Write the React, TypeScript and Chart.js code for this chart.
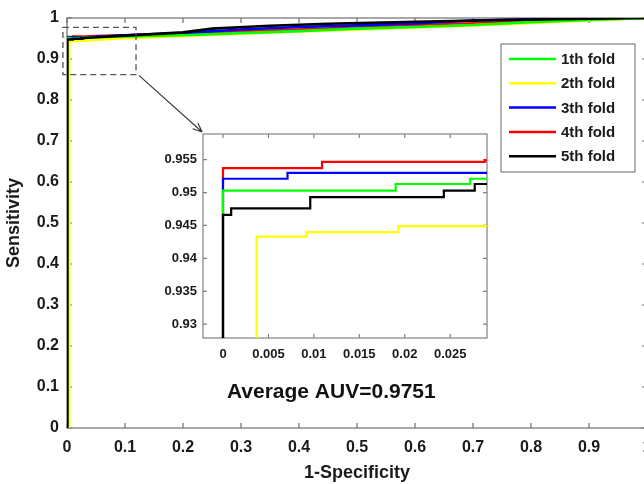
import { useEffect, useRef } from "react";
import { Chart, registerables } from "chart.js";
Chart.register(...registerables);

type Pt = [number, number];

// ---- data ----
const foldLabels = ["1th fold", "2th fold", "3th fold", "4th fold", "5th fold"];
const foldColors = ["#00ff00", "#ffff00", "#0000ff", "#ff0000", "#000000"];
const foldOrder = [2, 3, 4, 5, 1];

const fold1: Pt[] = [
  [0, 0], [0, 0.9503], [0.019, 0.9503], [0.019, 0.9513], [0.0272, 0.9513], [0.0272, 0.9521], [0.031, 0.9521],
  [0.05, 0.953], [0.1, 0.955], [0.2, 0.958], [0.3, 0.963], [0.4, 0.968], [0.5, 0.974],
  [0.6, 0.978], [0.7, 0.983], [0.8, 0.99], [0.9, 0.995], [1, 1],
];
const fold2: Pt[] = [
  [0.0037, 0], [0.0037, 0.9433], [0.0092, 0.9433], [0.0092, 0.944], [0.0193, 0.944], [0.0193, 0.9449], [0.031, 0.9449],
  [0.05, 0.947], [0.1, 0.951], [0.2, 0.956], [0.3, 0.962], [0.4, 0.967], [0.5, 0.972],
  [0.6, 0.977], [0.7, 0.982], [0.8, 0.988], [0.9, 0.994], [1, 1],
];
const fold3: Pt[] = [
  [0, 0], [0, 0.9521], [0.0071, 0.9521], [0.0071, 0.953], [0.031, 0.953],
  [0.05, 0.954], [0.1, 0.958], [0.2, 0.963], [0.3, 0.972], [0.4, 0.978], [0.5, 0.982],
  [0.6, 0.987], [0.7, 0.994], [0.8, 0.997], [0.9, 0.998], [1, 1],
];
const fold4: Pt[] = [
  [0, 0], [0, 0.9537], [0.0109, 0.9537], [0.0109, 0.95465], [0.0288, 0.95465], [0.0288, 0.9549], [0.031, 0.9549],
  [0.05, 0.956], [0.1, 0.958], [0.2, 0.961], [0.3, 0.967], [0.4, 0.972], [0.5, 0.977],
  [0.6, 0.982], [0.7, 0.987], [0.8, 0.992], [0.9, 0.996], [1, 1],
];
const fold5: Pt[] = [
  [0, 0], [0, 0.9466], [0.0009, 0.9466], [0.0009, 0.9476], [0.0096, 0.9476], [0.0096, 0.9493],
  [0.0243, 0.9493], [0.0243, 0.9503], [0.0277, 0.9503], [0.0277, 0.9513], [0.031, 0.9513],
  [0.05, 0.953], [0.1, 0.957], [0.2, 0.965], [0.25, 0.974], [0.35, 0.981], [0.45, 0.986],
  [0.6, 0.991], [0.75, 0.995], [0.9, 0.998], [1, 1],
];
const folds = [fold1, fold2, fold3, fold4, fold5];

const xTicksMain = [0, 0.1, 0.2, 0.3, 0.4, 0.5, 0.6, 0.7, 0.8, 0.9, 1];
const xTickLabelsMain = ["0", "0.1", "0.2", "0.3", "0.4", "0.5", "0.6", "0.7", "0.8", "0.9", "1"];
const yTicksMain = [0, 0.1, 0.2, 0.3, 0.4, 0.5, 0.6, 0.7, 0.8, 0.9, 1];
const yTickLabelsMain = ["0", "0.1", "0.2", "0.3", "0.4", "0.5", "0.6", "0.7", "0.8", "0.9", "1"];

const xTicksInset = [0, 0.005, 0.01, 0.015, 0.02, 0.025];
const xTickLabelsInset = ["0", "0.005", "0.01", "0.015", "0.02", "0.025"];
const yTicksInset = [0.93, 0.935, 0.94, 0.945, 0.95, 0.955];
const yTickLabelsInset = ["0.93", "0.935", "0.94", "0.945", "0.95", "0.955"];
const insetXRange: Pt = [-0.0022, 0.02905];
const insetYRange: Pt = [0.9279, 0.9589];

const zoomBoxX: Pt = [-0.007, 0.119];
const zoomBoxY: Pt = [0.862, 0.977];
const arrowFrom: Pt = [0.124, 0.86];
const arrowTo: Pt = [0.233, 0.722];
const aucText = "Average AUV=0.9751";
const aucPos: Pt = [0.4557, 0.074];

const FONT = "'Liberation Sans', Arial, Helvetica, sans-serif";
const TXT = "#1a1a1a";

function boxPlugin(id: string, tickLen: number, color: string, lw: number, fillWhite: boolean) {
  return {
    id,
    beforeDatasetsDraw(chart: any) {
      const { ctx, chartArea: a, scales } = chart;
      const x = scales.x, y = scales.y;
      ctx.save();
      if (fillWhite) {
        ctx.fillStyle = "#ffffff";
        ctx.fillRect(a.left, a.top, a.right - a.left, a.bottom - a.top);
      }
      ctx.strokeStyle = color;
      ctx.lineWidth = lw;
      ctx.strokeRect(a.left, a.top, a.right - a.left, a.bottom - a.top);
      ctx.beginPath();
      for (const t of x.ticks) {
        const px = x.getPixelForValue(t.value);
        ctx.moveTo(px, a.bottom); ctx.lineTo(px, a.bottom - tickLen);
        ctx.moveTo(px, a.top); ctx.lineTo(px, a.top + tickLen);
      }
      for (const t of y.ticks) {
        const py = y.getPixelForValue(t.value);
        ctx.moveTo(a.left, py); ctx.lineTo(a.left + tickLen, py);
        ctx.moveTo(a.right, py); ctx.lineTo(a.right - tickLen, py);
      }
      ctx.stroke();
      ctx.restore();
    },
  };
}

const overlayPlugin = {
  id: "overlay",
  afterDatasetsDraw(chart: any) {
    const { ctx, chartArea: a, scales } = chart;
    const x = scales.x, y = scales.y;
    ctx.save();
    // dashed zoom box
    ctx.strokeStyle = "#555555";
    ctx.lineWidth = 1.3;
    ctx.setLineDash([6, 4]);
    const bx0 = x.getPixelForValue(zoomBoxX[0]);
    const bx1 = x.getPixelForValue(zoomBoxX[1]);
    const by0 = y.getPixelForValue(zoomBoxY[1]);
    const by1 = y.getPixelForValue(zoomBoxY[0]);
    ctx.strokeRect(bx0, by0, bx1 - bx0, by1 - by0);
    ctx.setLineDash([]);
    // arrow
    const ax0 = x.getPixelForValue(arrowFrom[0]);
    const ay0 = y.getPixelForValue(arrowFrom[1]);
    const ax1 = x.getPixelForValue(arrowTo[0]);
    const ay1 = y.getPixelForValue(arrowTo[1]);
    ctx.strokeStyle = "#333333";
    ctx.lineWidth = 1.1;
    ctx.beginPath();
    ctx.moveTo(ax0, ay0);
    ctx.lineTo(ax1, ay1);
    const ang = Math.atan2(ay1 - ay0, ax1 - ax0);
    const hl = 10;
    ctx.moveTo(ax1, ay1);
    ctx.lineTo(ax1 - hl * Math.cos(ang - 0.4), ay1 - hl * Math.sin(ang - 0.4));
    ctx.moveTo(ax1, ay1);
    ctx.lineTo(ax1 - hl * Math.cos(ang + 0.4), ay1 - hl * Math.sin(ang + 0.4));
    ctx.stroke();
    // AUC text
    ctx.fillStyle = "#111111";
    ctx.font = `bold 21px ${FONT}`;
    ctx.textAlign = "center";
    ctx.textBaseline = "alphabetic";
    ctx.fillText(aucText, x.getPixelForValue(aucPos[0]), y.getPixelForValue(aucPos[1]));
    // legend
    const lw = 134, lh = 128;
    const lx = a.right - 12 - lw;
    const ly = a.top + 26;
    ctx.fillStyle = "#ffffff";
    ctx.fillRect(lx, ly, lw, lh);
    ctx.strokeStyle = "#808080";
    ctx.lineWidth = 1.2;
    ctx.strokeRect(lx, ly, lw, lh);
    ctx.font = `bold 15px ${FONT}`;
    ctx.textAlign = "left";
    ctx.textBaseline = "middle";
    foldLabels.forEach((lab, i) => {
      const cy = ly + 15 + i * 24.3;
      ctx.strokeStyle = foldColors[i];
      ctx.lineWidth = 2.5;
      ctx.beginPath();
      ctx.moveTo(lx + 8, cy);
      ctx.lineTo(lx + 55, cy);
      ctx.stroke();
      ctx.fillStyle = TXT;
      ctx.fillText(lab, lx + 60, cy + 1);
    });
    ctx.restore();
  },
};

function makeDatasets(width: number) {
  return folds.map((f, i) => ({
    label: foldLabels[i],
    data: f.map(([px, py]) => ({ x: px, y: py })),
    borderColor: foldColors[i],
    backgroundColor: foldColors[i],
    borderWidth: width,
    pointRadius: 0,
    tension: 0,
    fill: false,
    order: foldOrder[i],
  }));
}

export default function App() {
  const mainRef = useRef<HTMLCanvasElement>(null);
  const insetRef = useRef<HTMLCanvasElement>(null);

  useEffect(() => {
    const main = new Chart(mainRef.current!, {
      type: "line",
      data: { datasets: makeDatasets(2.6) as any },
      options: {
        animation: false,
        responsive: false,
        devicePixelRatio: 1,
        layout: { padding: { top: 18, left: 0, right: 0, bottom: 0 } },
        plugins: { legend: { display: false }, tooltip: { enabled: false } },
        scales: {
          x: {
            type: "linear",
            min: 0,
            max: 1,
            grid: { display: false, drawTicks: false },
            border: { display: false },
            afterBuildTicks: (s: any) => { s.ticks = xTicksMain.map((v) => ({ value: v })); },
            afterFit: (s: any) => { s.height = 56; s.paddingLeft = 0; s.paddingRight = 0; },
            ticks: {
              padding: 10,
              color: TXT,
              autoSkip: false,
              maxRotation: 0,
              font: { family: FONT, size: 16, weight: "bold" },
              callback: (_v: any, i: number) => xTickLabelsMain[i],
            },
            title: {
              display: true,
              text: "1-Specificity",
              color: TXT,
              font: { family: FONT, size: 18, weight: "bold" },
              padding: { top: 0, bottom: 0 },
            },
          },
          y: {
            type: "linear",
            min: 0,
            max: 1,
            grid: { display: false, drawTicks: false },
            border: { display: false },
            afterBuildTicks: (s: any) => { s.ticks = yTicksMain.map((v) => ({ value: v })); },
            afterFit: (s: any) => { s.width = 67; s.paddingTop = 0; s.paddingBottom = 0; },
            ticks: {
              padding: 8,
              color: TXT,
              autoSkip: false,
              font: { family: FONT, size: 16, weight: "bold" },
              callback: (_v: any, i: number) => yTickLabelsMain[i],
            },
            title: {
              display: true,
              text: "Sensitivity",
              color: TXT,
              font: { family: FONT, size: 18, weight: "bold" },
              padding: { top: 3, bottom: 0 },
            },
          },
        },
      },
      plugins: [boxPlugin("mainBox", 5, "#6e6e6e", 1.2, false), overlayPlugin],
    } as any);

    const inset = new Chart(insetRef.current!, {
      type: "line",
      data: { datasets: makeDatasets(2.2) as any },
      options: {
        animation: false,
        responsive: false,
        devicePixelRatio: 1,
        layout: { padding: { top: 9, left: 0, right: 13, bottom: 0 } },
        plugins: { legend: { display: false }, tooltip: { enabled: false } },
        scales: {
          x: {
            type: "linear",
            min: insetXRange[0],
            max: insetXRange[1],
            grid: { display: false, drawTicks: false },
            border: { display: false },
            afterBuildTicks: (s: any) => { s.ticks = xTicksInset.map((v) => ({ value: v })); },
            afterFit: (s: any) => { s.height = 32; s.paddingLeft = 0; s.paddingRight = 0; },
            ticks: {
              padding: 9,
              color: TXT,
              autoSkip: false,
              maxRotation: 0,
              font: { family: FONT, size: 13, weight: "bold" },
              callback: (_v: any, i: number) => xTickLabelsInset[i],
            },
          },
          y: {
            type: "linear",
            min: insetYRange[0],
            max: insetYRange[1],
            grid: { display: false, drawTicks: false },
            border: { display: false },
            afterBuildTicks: (s: any) => { s.ticks = yTicksInset.map((v) => ({ value: v })); },
            afterFit: (s: any) => { s.width = 63; s.paddingTop = 0; s.paddingBottom = 0; },
            ticks: {
              padding: 6,
              color: TXT,
              autoSkip: false,
              font: { family: FONT, size: 13, weight: "bold" },
              callback: (_v: any, i: number) => yTickLabelsInset[i],
            },
          },
        },
      },
      plugins: [boxPlugin("insetBox", 4, "#808080", 1.2, true)],
    } as any);

    return () => {
      main.destroy();
      inset.destroy();
    };
  }, []);

  return (
    <div style={{ position: "absolute", left: 0, top: 0, width: 644, height: 484, overflow: "hidden", background: "#fff" }}>
      <canvas ref={mainRef} width={647} height={484} style={{ position: "absolute", left: 0, top: 0 }} />
      <canvas ref={insetRef} width={360} height={245} style={{ position: "absolute", left: 140, top: 125 }} />
    </div>
  );
}
